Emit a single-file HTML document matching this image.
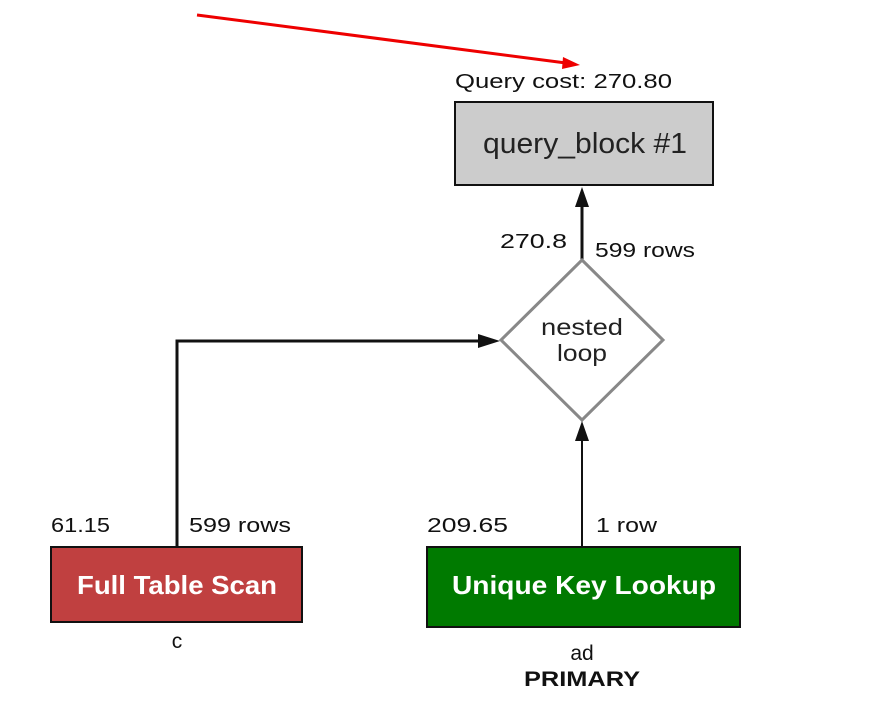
<!DOCTYPE html>
<html><head><meta charset="utf-8"><style>
html,body{margin:0;padding:0;background:#fff;}
svg text{font-family:"Liberation Sans",Arial,sans-serif;}
</style></head><body>
<svg width="873" height="721" viewBox="0 0 873 721" xmlns="http://www.w3.org/2000/svg">
<line x1="197" y1="15" x2="566" y2="63" stroke="#ee0000" stroke-width="3"/>
<polygon points="580,65 563,57 562,69" fill="#ee0000"/>
<text x="455" y="88" font-size="20" fill="#111" textLength="217" lengthAdjust="spacingAndGlyphs">Query cost: 270.80</text>
<rect x="455" y="102" width="258" height="83" fill="#cccccc" stroke="#111" stroke-width="2"/>
<text x="483" y="153" font-size="29" fill="#222" textLength="204" lengthAdjust="spacingAndGlyphs">query_block #1</text>
<line x1="582" y1="260" x2="582" y2="205" stroke="#111" stroke-width="3"/>
<polygon points="582,187 575,207 589,207" fill="#111"/>
<text x="500" y="248" font-size="20" fill="#111" textLength="67" lengthAdjust="spacingAndGlyphs">270.8</text>
<text x="595" y="257" font-size="20" fill="#111" textLength="100" lengthAdjust="spacingAndGlyphs">599 rows</text>
<polygon points="582,260 663,340 582,420 501,340" fill="#fff" stroke="#888" stroke-width="3"/>
<text x="541" y="335" font-size="23" fill="#222" textLength="82" lengthAdjust="spacingAndGlyphs">nested</text>
<text x="557" y="361" font-size="23" fill="#222" textLength="50" lengthAdjust="spacingAndGlyphs">loop</text>
<polyline points="177,547 177,341 480,341" fill="none" stroke="#111" stroke-width="3"/>
<polygon points="500,341 478,334 478,348" fill="#111"/>
<line x1="582" y1="547" x2="582" y2="440" stroke="#111" stroke-width="2"/>
<polygon points="582,421 575,441 589,441" fill="#111"/>
<text x="51" y="532" font-size="20" fill="#111" textLength="59" lengthAdjust="spacingAndGlyphs">61.15</text>
<text x="189" y="532" font-size="20" fill="#111" textLength="102" lengthAdjust="spacingAndGlyphs">599 rows</text>
<text x="427" y="532" font-size="20" fill="#111" textLength="81" lengthAdjust="spacingAndGlyphs">209.65</text>
<text x="596" y="532" font-size="20" fill="#111" textLength="61" lengthAdjust="spacingAndGlyphs">1 row</text>
<rect x="51" y="547" width="251" height="75" fill="#c04040" stroke="#111" stroke-width="2"/>
<text x="77" y="594" font-size="26" font-weight="bold" fill="#fff" textLength="200" lengthAdjust="spacingAndGlyphs">Full Table Scan</text>
<rect x="427" y="547" width="313" height="80" fill="#007a00" stroke="#111" stroke-width="2"/>
<text x="452" y="594" font-size="26" font-weight="bold" fill="#fff" textLength="264" lengthAdjust="spacingAndGlyphs">Unique Key Lookup</text>
<text x="177" y="648" font-size="21" fill="#111" text-anchor="middle">c</text>
<text x="582" y="660" font-size="21" fill="#111" text-anchor="middle">ad</text>
<text x="524" y="686" font-size="21" font-weight="bold" fill="#111" textLength="116" lengthAdjust="spacingAndGlyphs">PRIMARY</text>
</svg>
</body></html>
